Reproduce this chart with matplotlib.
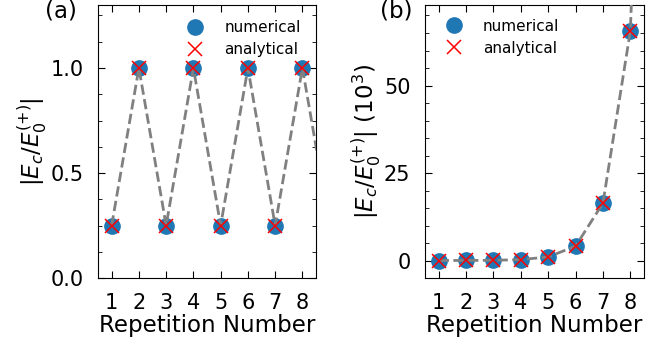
import numpy as np
import matplotlib.pyplot as plt

# repetition number, plus one extra point so the guide line runs off the edge
reps = [1, 2, 3, 4, 5, 6, 7, 8]
reps_line = [1, 2, 3, 4, 5, 6, 7, 8, 9]

# (a) |Ec/E0+| alternating
amp_a_num = [0.25, 1.0, 0.25, 1.0, 0.25, 1.0, 0.25, 1.0]
amp_a_ana = [0.25, 1.0, 0.25, 1.0, 0.25, 1.0, 0.25, 1.0]
amp_a_line = [0.25, 1.0, 0.25, 1.0, 0.25, 1.0, 0.25, 1.0, 0.25]

# (b) |Ec/E0+| in units of 10^3, growing
amp_b_num = [0.004, 0.016, 0.064, 0.256, 1.024, 4.096, 16.384, 65.536]
amp_b_ana = [0.004, 0.016, 0.064, 0.256, 1.024, 4.096, 16.384, 65.536]
amp_b_line = [0.004, 0.016, 0.064, 0.256, 1.024, 4.096, 16.384, 65.536, 262.144]

fig = plt.figure(figsize=(6.7, 3.47), dpi=100)
ax1 = fig.add_axes([0.1463, 0.1988, 0.3254, 0.7868])
ax2 = fig.add_axes([0.6343, 0.1988, 0.3269, 0.7868])


def draw(ax, yn, ya, yl):
    ax.plot(reps, yn, 'o', color='tab:blue', ms=11, label='numerical', zorder=2)
    ax.plot(reps_line, yl, '--', color='gray', lw=2, zorder=3)
    ax.plot(reps, ya, 'x', color='red', ms=10, mew=1.1, label='analytical', zorder=4)
    ax.set_xlim(0.5, 8.5)
    ax.set_xticks(reps)
    ax.tick_params(which='both', direction='in', top=True, right=True,
                   labelsize=15, pad=10.5)
    ax.tick_params(which='major', length=5)
    ax.tick_params(which='minor', length=3)
    ax.set_xlabel('Repetition Number', fontsize=16.5, labelpad=1)


draw(ax1, amp_a_num, amp_a_ana, amp_a_line)
ax1.set_ylim(0, 1.3)
ax1.set_yticks([0.0, 0.5, 1.0])
ax1.set_yticks(np.arange(0, 1.3, 0.125), minor=True)
ax1.set_ylabel(r'$|E_c/E_0^{(+)}|$', fontsize=16.5, labelpad=1)
ax1.legend(loc='upper right', frameon=False, fontsize=11, labelspacing=0.45,
           handletextpad=0.9, borderaxespad=0.7, borderpad=0.3)

draw(ax2, amp_b_num, amp_b_ana, amp_b_line)
ax2.set_ylim(-5, 73)
ax2.set_yticks([0, 25, 50])
ax2.set_yticks(np.arange(-5, 73, 5), minor=True)
ax2.set_ylabel(r'$|E_c/E_0^{(+)}|$ $(10^3)$', fontsize=16.5, labelpad=1)
ax2.legend(loc='upper left', frameon=False, fontsize=11, labelspacing=0.45,
           handletextpad=0.9, borderaxespad=0.6, borderpad=0.3)

# panel tags sit above the top-left corners, partly past the figure edge
fig.text(0.067, 0.951, '(a)', fontsize=16.5, va='baseline')
fig.text(0.567, 0.951, '(b)', fontsize=16.5, va='baseline')

fig.savefig('out.png', dpi=100)
